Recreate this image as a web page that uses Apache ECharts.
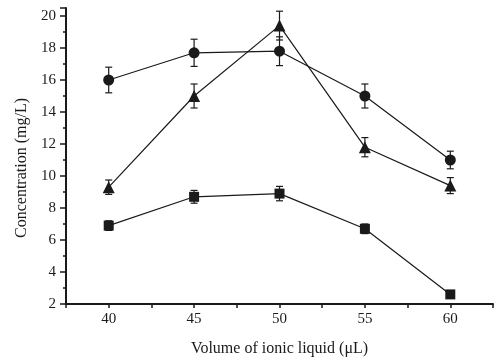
<!DOCTYPE html>
<html>
<head>
<meta charset="utf-8">
<script src="https://cdn.jsdelivr.net/npm/echarts@6/dist/echarts.min.js"></script>
<style>
  html, body { margin: 0; padding: 0; background: #fff; }
  #chart { width: 502px; height: 362px; }
</style>
</head>
<body>
<div id="chart"></div>
<script>
// x categories (ionic liquid volume, uL)
const volumes = [40, 45, 50, 55, 60];

// circles
const circleVals = [16.0, 17.7, 17.8, 15.0, 11.0];
const circleErr = [0.8, 0.85, 0.9, 0.75, 0.55];
// triangles
const triVals = [9.3, 15.0, 19.4, 11.8, 9.4];
const triErr = [0.45, 0.75, 0.9, 0.6, 0.5];
// squares
const squareVals = [6.9, 8.7, 8.9, 6.7, 2.6];
const squareErr = [0.3, 0.4, 0.45, 0.3, 0.1];

const serif = 'Liberation Serif';
const ink = '#1a1a1a';

function pts(vals) {
    return volumes.map((v, i) => [v, vals[i]]);
}
function errData(vals, errs) {
    return volumes.map((v, i) => [v, vals[i] - errs[i], vals[i] + errs[i]]);
}

// error bar drawing
function renderErr(params, api) {
    const x = api.value(0);
    const lo = api.coord([x, api.value(1)]);
    const hi = api.coord([x, api.value(2)]);
    const cap = 3.5;
    const style = { stroke: ink, lineWidth: 1.2 };
    return {
        type: 'group',
        children: [
            { type: 'line', shape: { x1: lo[0], y1: lo[1], x2: hi[0], y2: hi[1] }, style: style },
            { type: 'line', shape: { x1: lo[0] - cap, y1: lo[1], x2: lo[0] + cap, y2: lo[1] }, style: style },
            { type: 'line', shape: { x1: hi[0] - cap, y1: hi[1], x2: hi[0] + cap, y2: hi[1] }, style: style }
        ]
    };
}

function lineSeries(name, vals, symbol, size) {
    return {
        name: name,
        type: 'line',
        data: pts(vals),
        symbol: symbol,
        symbolSize: size,
        showAllSymbol: true,
        itemStyle: { color: ink },
        lineStyle: { color: ink, width: 1.2 },
        z: 3,
        animation: false
    };
}
function errSeries(vals, errs) {
    return {
        type: 'custom',
        renderItem: renderErr,
        data: errData(vals, errs),
        encode: { x: 0, y: [1, 2] },
        z: 2,
        silent: true,
        animation: false
    };
}

const chart = echarts.init(document.getElementById('chart'));
chart.setOption({
    backgroundColor: '#fff',
    animation: false,
    grid: { left: 66, right: 9, top: 8, bottom: 56 },
    xAxis: {
        type: 'value',
        min: 37.5,
        max: 62.5,
        interval: 2.5,
        name: 'Volume of ionic liquid (\u03bcL)',
        nameLocation: 'middle',
        nameGap: 37,
        nameTextStyle: { fontFamily: serif, fontSize: 16, color: ink },
        axisLine: { lineStyle: { color: ink, width: 2 } },
        axisTick: { inside: false, length: 4, lineStyle: { color: ink, width: 1.5 } },
        axisLabel: {
            fontFamily: serif, fontSize: 15, color: ink, margin: 8,
            formatter: v => (v % 5 === 0 ? String(v) : '')
        },
        splitLine: { show: false }
    },
    yAxis: {
        type: 'value',
        min: 2,
        max: 20.5,
        interval: 2,
        name: 'Concentration (mg/L)',
        nameLocation: 'middle',
        nameGap: 36,
        nameTextStyle: { fontFamily: serif, fontSize: 16, color: ink, padding: [0, 24, 0, 0] },
        axisLine: { show: true, lineStyle: { color: ink, width: 2 } },
        axisTick: { show: true, length: 6, lineStyle: { color: ink, width: 1.5 } },
        minorTick: { show: true, splitNumber: 2, length: 3, lineStyle: { color: ink, width: 1.5 } },
        axisLabel: { fontFamily: serif, fontSize: 15, color: ink, margin: 10, showMaxLabel: false },
        splitLine: { show: false }
    },
    series: [
        errSeries(circleVals, circleErr),
        errSeries(triVals, triErr),
        errSeries(squareVals, squareErr),
        lineSeries('circle', circleVals, 'circle', 11),
        lineSeries('triangle', triVals, 'triangle', 12),
        lineSeries('square', squareVals, 'rect', 10)
    ]
});
window.addEventListener('resize', () => chart.resize());
</script>
</body>
</html>
